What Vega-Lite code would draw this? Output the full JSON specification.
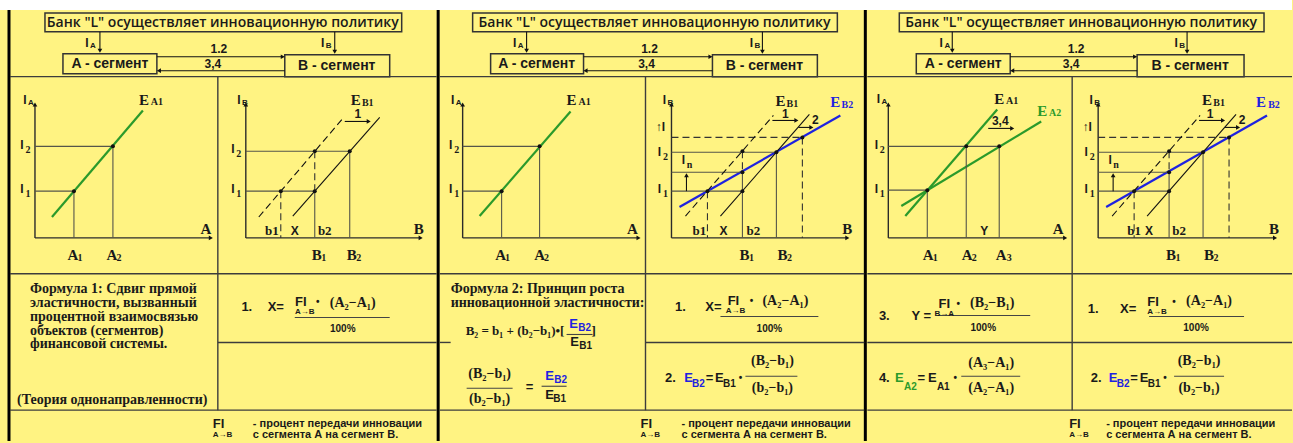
{
"$schema":"https://vega.github.io/schema/vega-lite/v6.json",
"width":1293,"height":443,"padding":0,
"autosize":{"type":"fit","contains":"padding"},
"background":"#FFF382",
"config":{"view":{"stroke":null}},
"datasets":{
"strip":[{"x":0,"x2":1293,"y":0,"y2":10}],
"boxes":[
{"x":45,"y":13,"x2":402,"y2":32},{"x":63,"y":54,"x2":157,"y2":74},{"x":285,"y":55,"x2":390,"y2":77},
{"x":473,"y":13,"x2":838,"y2":32},{"x":491,"y":54,"x2":584,"y2":74},{"x":713,"y":55,"x2":818,"y2":77},
{"x":900,"y":13,"x2":1265,"y2":32},{"x":917,"y":54,"x2":1011,"y2":74},{"x":1138,"y":55,"x2":1245,"y2":77}
],
"segs":[
{"k":"frame","x":9,"y":10,"x2":9,"y2":443},
{"k":"frame","x":438.5,"y":10,"x2":438.5,"y2":443},
{"k":"frame","x":866,"y":10,"x2":866,"y2":443},
{"k":"cell","x":10,"y":77,"x2":437,"y2":77},{"k":"cell","x":440,"y":77,"x2":865,"y2":77},{"k":"cell","x":868,"y":77,"x2":1293,"y2":77},
{"k":"cell","x":10,"y":275,"x2":437,"y2":275},{"k":"cell","x":440,"y":275,"x2":865,"y2":275},{"k":"cell","x":868,"y":275,"x2":1293,"y2":275},
{"k":"cell","x":218,"y":344,"x2":437,"y2":344},{"k":"cell","x":440,"y":344,"x2":451,"y2":344},{"k":"cell","x":646,"y":344,"x2":865,"y2":344},{"k":"cell","x":868,"y":344,"x2":1293,"y2":344},
{"k":"cell","x":10,"y":412,"x2":437,"y2":412},{"k":"cell","x":440,"y":412,"x2":865,"y2":412},{"k":"cell","x":868,"y":412,"x2":1293,"y2":412},
{"k":"cell","x":218,"y":77,"x2":218,"y2":412},{"k":"cell","x":646,"y":77,"x2":646,"y2":412},{"k":"cell","x":1073,"y":77,"x2":1073,"y2":412},
{"k":"arrow","x":100,"y":32,"x2":100,"y2":50},{"k":"arrow","x":335,"y":32,"x2":335,"y2":51},{"k":"arrow","x":157,"y":57,"x2":282,"y2":57},{"k":"arrow","x":160,"y":71,"x2":285,"y2":71},
{"k":"arrow","x":527,"y":32,"x2":527,"y2":50},{"k":"arrow","x":763,"y":32,"x2":763,"y2":51},{"k":"arrow","x":584,"y":57,"x2":710,"y2":57},{"k":"arrow","x":587,"y":71,"x2":713,"y2":71},
{"k":"arrow","x":953,"y":32,"x2":953,"y2":50},{"k":"arrow","x":1188,"y":32,"x2":1188,"y2":51},{"k":"arrow","x":1011,"y":57,"x2":1135,"y2":57},{"k":"arrow","x":1014,"y":71,"x2":1138,"y2":71},
{"k":"axis","x":35,"y":239,"x2":35,"y2":106},{"k":"axis","x":35,"y":239,"x2":210,"y2":239},
{"k":"axis","x":246,"y":239,"x2":246,"y2":106},{"k":"axis","x":246,"y":239,"x2":420,"y2":239},
{"k":"axis","x":463,"y":239,"x2":463,"y2":106},{"k":"axis","x":463,"y":239,"x2":638,"y2":239},
{"k":"axis","x":672,"y":239,"x2":672,"y2":106},{"k":"axis","x":672,"y":239,"x2":847,"y2":239},
{"k":"axis","x":889,"y":239,"x2":889,"y2":106},{"k":"axis","x":889,"y":239,"x2":1065,"y2":239},
{"k":"axis","x":1099,"y":239,"x2":1099,"y2":106},{"k":"axis","x":1099,"y":239,"x2":1275,"y2":239},
{"k":"guide","x":35,"y":192,"x2":74,"y2":192},{"k":"guide","x":35,"y":147,"x2":113,"y2":147},{"k":"guide","x":74,"y":192,"x2":74,"y2":239},{"k":"guide","x":113,"y":147,"x2":113,"y2":239},
{"k":"ea","x":52,"y":218,"x2":143,"y2":111},
{"k":"guide","x":246,"y":152,"x2":350,"y2":152},{"k":"guide","x":246,"y":192,"x2":315,"y2":192},
{"k":"gdash","x":281,"y":192,"x2":281,"y2":239},{"k":"gdash","x":315,"y":152,"x2":315,"y2":192},
{"k":"guide","x":315,"y":192,"x2":315,"y2":239},{"k":"guide","x":350,"y":152,"x2":350,"y2":239},
{"k":"sdash","x":259,"y":218,"x2":343,"y2":119},{"k":"eb1","x":293,"y":217,"x2":380,"y2":118},
{"k":"arrow","x":345,"y":122,"x2":368,"y2":122},
{"k":"guide","x":463,"y":192,"x2":502,"y2":192},{"k":"guide","x":463,"y":147,"x2":540,"y2":147},{"k":"guide","x":502,"y":192,"x2":502,"y2":239},{"k":"guide","x":540,"y":147,"x2":540,"y2":239},
{"k":"ea","x":480,"y":217,"x2":571,"y2":112},
{"k":"gdash","x":672,"y":138,"x2":803,"y2":138},{"k":"guide","x":672,"y":153,"x2":777,"y2":153},{"k":"guide","x":672,"y":173,"x2":743,"y2":173},{"k":"guide","x":672,"y":192,"x2":743,"y2":192},
{"k":"gdash","x":708,"y":192,"x2":708,"y2":239},{"k":"gdash","x":743,"y":152,"x2":743,"y2":173},{"k":"guide","x":743,"y":173,"x2":743,"y2":239},{"k":"guide","x":777,"y":153,"x2":777,"y2":239},{"k":"gdash","x":803,"y":138,"x2":803,"y2":239},
{"k":"sdash","x":686,"y":217,"x2":774,"y2":116},{"k":"eb1","x":721,"y":217,"x2":810,"y2":115},{"k":"eb2","x":680,"y":208,"x2":841,"y2":116},
{"k":"arrow","x":773,"y":121,"x2":796,"y2":121},{"k":"arrow","x":799,"y":128,"x2":811,"y2":128},{"k":"arrow","x":687,"y":192,"x2":687,"y2":177},
{"k":"guide","x":889,"y":191,"x2":928,"y2":191},{"k":"guide","x":889,"y":147,"x2":1000,"y2":147},{"k":"guide","x":928,"y":191,"x2":928,"y2":239},{"k":"guide","x":967,"y":147,"x2":967,"y2":239},{"k":"guide","x":1000,"y":147,"x2":1000,"y2":239},
{"k":"ea","x":906,"y":217,"x2":998,"y2":110},{"k":"ea","x":902,"y":207,"x2":1042,"y2":122},
{"k":"arrow","x":989,"y":129,"x2":1012,"y2":129},
{"k":"gdash","x":1099,"y":138,"x2":1230,"y2":138},{"k":"guide","x":1099,"y":153,"x2":1204,"y2":153},{"k":"guide","x":1099,"y":173,"x2":1170,"y2":173},{"k":"guide","x":1099,"y":192,"x2":1170,"y2":192},
{"k":"gdash","x":1135,"y":192,"x2":1135,"y2":239},{"k":"gdash","x":1170,"y":152,"x2":1170,"y2":173},{"k":"guide","x":1170,"y":173,"x2":1170,"y2":239},{"k":"guide","x":1204,"y":153,"x2":1204,"y2":239},{"k":"gdash","x":1230,"y":138,"x2":1230,"y2":239},
{"k":"sdash","x":1113,"y":217,"x2":1201,"y2":116},{"k":"eb1","x":1148,"y":217,"x2":1237,"y2":115},{"k":"eb2","x":1107,"y":208,"x2":1268,"y2":116},
{"k":"arrow","x":1200,"y":121,"x2":1223,"y2":121},{"k":"arrow","x":1226,"y":128,"x2":1238,"y2":128},{"k":"arrow","x":1114,"y":192,"x2":1114,"y2":177},
{"k":"frac","x":295,"y":319,"x2":390,"y2":319},
{"k":"frac","x":721,"y":318,"x2":819,"y2":318},{"k":"frac","x":746,"y":378,"x2":798,"y2":378},
{"k":"frac","x":567,"y":336,"x2":593,"y2":336},{"k":"frac","x":467,"y":390,"x2":513,"y2":390},{"k":"frac","x":542,"y":388,"x2":567,"y2":388},
{"k":"frac","x":938,"y":317,"x2":1031,"y2":317},{"k":"frac","x":962,"y":378,"x2":1021,"y2":378},
{"k":"frac","x":1150,"y":318,"x2":1245,"y2":318},{"k":"frac","x":1175,"y":378,"x2":1225,"y2":378}
],
"heads":[
{"d":"down","x":100,"y":51},{"d":"down","x":335,"y":52},{"d":"right","x":283,"y":57},{"d":"left","x":159,"y":71},
{"d":"down","x":527,"y":51},{"d":"down","x":763,"y":52},{"d":"right","x":711,"y":57},{"d":"left","x":586,"y":71},
{"d":"down","x":953,"y":51},{"d":"down","x":1188,"y":52},{"d":"right","x":1136,"y":57},{"d":"left","x":1013,"y":71},
{"d":"up","x":35,"y":105},{"d":"up","x":246,"y":105},{"d":"up","x":463,"y":105},{"d":"up","x":672,"y":105},{"d":"up","x":889,"y":105},{"d":"up","x":1099,"y":105},
{"d":"right","x":211,"y":239},{"d":"right","x":421,"y":239},{"d":"right","x":639,"y":239},{"d":"right","x":848,"y":239},{"d":"right","x":1066,"y":239},{"d":"right","x":1276,"y":239},
{"d":"right","x":369,"y":122},{"d":"right","x":797,"y":121},{"d":"right","x":812,"y":128},{"d":"up","x":687,"y":176},
{"d":"right","x":1013,"y":129},{"d":"right","x":1224,"y":121},{"d":"right","x":1239,"y":128},{"d":"up","x":1114,"y":176}
],
"dots":[
{"x":74,"y":192},{"x":113,"y":147},
{"x":281,"y":192},{"x":315,"y":152},{"x":315,"y":192},{"x":350,"y":152},
{"x":502,"y":192},{"x":540,"y":147},
{"x":708,"y":192},{"x":743,"y":173},{"x":743,"y":192},{"x":743,"y":152},{"x":777,"y":153},{"x":803,"y":138},
{"x":928,"y":191},{"x":967,"y":147},{"x":1000,"y":147},
{"x":1135,"y":192},{"x":1170,"y":173},{"x":1170,"y":192},{"x":1170,"y":152},{"x":1204,"y":153},{"x":1230,"y":138}
],
"texts":[
{"r":"title","k":"txt","x":223,"y":23,"t":"Банк \"L\" осуществляет инновационную политику"},
{"r":"title","k":"txt","x":655,"y":23,"t":"Банк \"L\" осуществляет инновационную политику"},
{"r":"title","k":"txt","x":1082,"y":23,"t":"Банк \"L\" осуществляет инновационную политику"},
{"r":"seg","k":"txt","x":110,"y":64,"t":"A - сегмент"},{"r":"seg","k":"txt","x":337,"y":66,"t":"B - сегмент"},
{"r":"seg","k":"txt","x":537,"y":64,"t":"A - сегмент"},{"r":"seg","k":"txt","x":765,"y":66,"t":"B - сегмент"},
{"r":"seg","k":"txt","x":964,"y":64,"t":"A - сегмент"},{"r":"seg","k":"txt","x":1191,"y":66,"t":"B - сегмент"},
{"r":"lab","k":"txt","x":87,"y":43,"t":"I"},{"r":"sub","k":"txt","x":93,"y":46,"t":"A"},{"r":"lab","k":"txt","x":323,"y":43,"t":"I"},{"r":"sub","k":"txt","x":329,"y":46,"t":"B"},
{"r":"lab","k":"txt","x":219,"y":49,"t":"1.2"},{"r":"lab","k":"txt","x":213,"y":64,"t":"3,4"},
{"r":"lab","k":"txt","x":515,"y":43,"t":"I"},{"r":"sub","k":"txt","x":521,"y":46,"t":"A"},{"r":"lab","k":"txt","x":752,"y":43,"t":"I"},{"r":"sub","k":"txt","x":758,"y":46,"t":"B"},
{"r":"lab","k":"txt","x":650,"y":49,"t":"1.2"},{"r":"lab","k":"txt","x":647,"y":64,"t":"3,4"},
{"r":"lab","k":"txt","x":942,"y":43,"t":"I"},{"r":"sub","k":"txt","x":948,"y":46,"t":"A"},{"r":"lab","k":"txt","x":1177,"y":43,"t":"I"},{"r":"sub","k":"txt","x":1183,"y":46,"t":"B"},
{"r":"lab","k":"txt","x":1077,"y":49,"t":"1.2"},{"r":"lab","k":"txt","x":1072,"y":64,"t":"3,4"},

{"r":"lab","k":"txt","x":25,"y":100,"t":"I"},{"r":"sub","k":"txt","x":31,"y":103,"t":"A"},
{"r":"lab","k":"txt","x":22,"y":146,"t":"I"},{"r":"vsub","k":"txt","x":28,"y":151,"t":"2"},
{"r":"lab","k":"txt","x":22,"y":190,"t":"I"},{"r":"vsub","k":"txt","x":28,"y":195,"t":"1"},
{"r":"var","k":"txt","x":206,"y":230,"t":"A"},
{"r":"var","k":"txt","x":73,"y":256,"t":"A"},{"r":"vsub","k":"txt","x":80,"y":259,"t":"1"},
{"r":"var","k":"txt","x":112,"y":256,"t":"A"},{"r":"vsub","k":"txt","x":119,"y":259,"t":"2"},
{"r":"var","k":"txt","x":144,"y":100,"t":"E"},{"r":"vsub","k":"txt","x":157,"y":102,"t":"A1"},

{"r":"lab","k":"txt","x":239,"y":100,"t":"I"},{"r":"sub","k":"txt","x":245,"y":103,"t":"B"},
{"r":"lab","k":"txt","x":233,"y":150,"t":"I"},{"r":"vsub","k":"txt","x":239,"y":155,"t":"2"},
{"r":"lab","k":"txt","x":233,"y":190,"t":"I"},{"r":"vsub","k":"txt","x":239,"y":195,"t":"1"},
{"r":"var","k":"txt","x":419,"y":230,"t":"B"},
{"r":"bl","k":"txt","x":272,"y":232,"t":"b1"},{"r":"lab","k":"txt","x":295,"y":232,"t":"X"},{"r":"bl","k":"txt","x":325,"y":232,"t":"b2"},
{"r":"var","k":"txt","x":317,"y":256,"t":"B"},{"r":"vsub","k":"txt","x":324,"y":259,"t":"1"},
{"r":"var","k":"txt","x":352,"y":256,"t":"B"},{"r":"vsub","k":"txt","x":359,"y":259,"t":"2"},
{"r":"var","k":"txt","x":356,"y":100,"t":"E"},{"r":"vsub","k":"txt","x":368,"y":103,"t":"B1"},
{"r":"lab","k":"txt","x":358,"y":115,"t":"1"},

{"r":"lab","k":"txt","x":453,"y":100,"t":"I"},{"r":"sub","k":"txt","x":459,"y":103,"t":"A"},
{"r":"lab","k":"txt","x":451,"y":146,"t":"I"},{"r":"vsub","k":"txt","x":457,"y":151,"t":"2"},
{"r":"lab","k":"txt","x":451,"y":190,"t":"I"},{"r":"vsub","k":"txt","x":457,"y":195,"t":"1"},
{"r":"var","k":"txt","x":633,"y":230,"t":"A"},
{"r":"var","k":"txt","x":501,"y":256,"t":"A"},{"r":"vsub","k":"txt","x":508,"y":259,"t":"1"},
{"r":"var","k":"txt","x":540,"y":256,"t":"A"},{"r":"vsub","k":"txt","x":547,"y":259,"t":"2"},
{"r":"var","k":"txt","x":572,"y":100,"t":"E"},{"r":"vsub","k":"txt","x":585,"y":102,"t":"A1"},

{"r":"lab","k":"txt","x":665,"y":100,"t":"I"},{"r":"sub","k":"txt","x":671,"y":103,"t":"B"},
{"r":"lab","k":"txt","x":661,"y":128,"t":"↑I"},
{"r":"lab","k":"txt","x":660,"y":153,"t":"I"},{"r":"vsub","k":"txt","x":666,"y":158,"t":"2"},
{"r":"lab","k":"txt","x":660,"y":190,"t":"I"},{"r":"vsub","k":"txt","x":666,"y":195,"t":"1"},
{"r":"lab","k":"txt","x":684,"y":161,"t":"I"},{"r":"vsub","k":"txt","x":690,"y":166,"t":"n"},
{"r":"var","k":"txt","x":848,"y":230,"t":"B"},
{"r":"bl","k":"txt","x":700,"y":232,"t":"b1"},{"r":"lab","k":"txt","x":724,"y":232,"t":"X"},{"r":"bl","k":"txt","x":754,"y":232,"t":"b2"},
{"r":"var","k":"txt","x":745,"y":256,"t":"B"},{"r":"vsub","k":"txt","x":752,"y":259,"t":"1"},
{"r":"var","k":"txt","x":783,"y":256,"t":"B"},{"r":"vsub","k":"txt","x":790,"y":259,"t":"2"},
{"r":"var","k":"txt","x":781,"y":101,"t":"E"},{"r":"vsub","k":"txt","x":793,"y":104,"t":"B1"},
{"r":"var","k":"eb2","x":836,"y":102,"t":"E"},{"r":"vsub","k":"eb2","x":848,"y":105,"t":"B2"},
{"r":"lab","k":"txt","x":786,"y":115,"t":"1"},{"r":"lab","k":"txt","x":816,"y":121,"t":"2"},

{"r":"lab","k":"txt","x":879,"y":99,"t":"I"},{"r":"sub","k":"txt","x":885,"y":102,"t":"A"},
{"r":"lab","k":"txt","x":877,"y":146,"t":"I"},{"r":"vsub","k":"txt","x":883,"y":151,"t":"2"},
{"r":"lab","k":"txt","x":877,"y":190,"t":"I"},{"r":"vsub","k":"txt","x":883,"y":195,"t":"1"},
{"r":"var","k":"txt","x":1059,"y":230,"t":"A"},
{"r":"var","k":"txt","x":929,"y":256,"t":"A"},{"r":"vsub","k":"txt","x":936,"y":259,"t":"1"},
{"r":"var","k":"txt","x":968,"y":256,"t":"A"},{"r":"vsub","k":"txt","x":975,"y":259,"t":"2"},
{"r":"var","k":"txt","x":1002,"y":256,"t":"A"},{"r":"vsub","k":"txt","x":1010,"y":259,"t":"3"},
{"r":"lab","k":"txt","x":985,"y":232,"t":"Y"},
{"r":"var","k":"txt","x":1000,"y":99,"t":"E"},{"r":"vsub","k":"txt","x":1013,"y":101,"t":"A1"},
{"r":"var","k":"ea","x":1043,"y":112,"t":"E"},{"r":"vsub","k":"ea","x":1056,"y":114,"t":"A2"},
{"r":"lab","k":"txt","x":1001,"y":122,"t":"3,4"},

{"r":"lab","k":"txt","x":1092,"y":100,"t":"I"},{"r":"sub","k":"txt","x":1098,"y":103,"t":"B"},
{"r":"lab","k":"txt","x":1088,"y":128,"t":"↑I"},
{"r":"lab","k":"txt","x":1087,"y":153,"t":"I"},{"r":"vsub","k":"txt","x":1093,"y":158,"t":"2"},
{"r":"lab","k":"txt","x":1087,"y":190,"t":"I"},{"r":"vsub","k":"txt","x":1093,"y":195,"t":"1"},
{"r":"lab","k":"txt","x":1111,"y":161,"t":"I"},{"r":"vsub","k":"txt","x":1117,"y":166,"t":"n"},
{"r":"var","k":"txt","x":1275,"y":230,"t":"B"},
{"r":"bl","k":"txt","x":1135,"y":232,"t":"b1"},{"r":"lab","k":"txt","x":1150,"y":232,"t":"X"},{"r":"bl","k":"txt","x":1180,"y":232,"t":"b2"},
{"r":"var","k":"txt","x":1172,"y":256,"t":"B"},{"r":"vsub","k":"txt","x":1179,"y":259,"t":"1"},
{"r":"var","k":"txt","x":1210,"y":256,"t":"B"},{"r":"vsub","k":"txt","x":1217,"y":259,"t":"2"},
{"r":"var","k":"txt","x":1208,"y":100,"t":"E"},{"r":"vsub","k":"txt","x":1220,"y":103,"t":"B1"},
{"r":"var","k":"eb2","x":1262,"y":102,"t":"E"},{"r":"vsub","k":"eb2","x":1275,"y":105,"t":"B2"},
{"r":"lab","k":"txt","x":1211,"y":115,"t":"1"},{"r":"lab","k":"txt","x":1243,"y":121,"t":"2"},

{"r":"desc","k":"txt","x":30,"y":290,"t":"Формула 1: Сдвиг прямой"},
{"r":"desc","k":"txt","x":30,"y":304,"t":"эластичности, вызванный"},
{"r":"desc","k":"txt","x":30,"y":318,"t":"процентной взаимосвязью"},
{"r":"desc","k":"txt","x":30,"y":332,"t":"объектов (сегментов)"},
{"r":"desc","k":"txt","x":30,"y":346,"t":"финансовой системы."},
{"r":"desc","k":"txt","x":17,"y":402,"t":"(Теория однонаправленности)"},
{"r":"f","k":"txt","x":247,"y":308,"t":"1."},{"r":"f","k":"txt","x":276,"y":308,"t":"X="},
{"r":"f","k":"txt","x":301,"y":303,"t":"FI"},{"r":"sub","k":"txt","x":305,"y":313,"t":"A→B"},
{"r":"dot","k":"txt","x":318,"y":303,"t":"•"},{"r":"expr","k":"txt","x":353,"y":304,"t":"(A₂−A₁)"},
{"r":"pct","k":"txt","x":343,"y":330,"t":"100%"},

{"r":"desc","k":"txt","x":451,"y":290,"t":"Формула 2: Принцип роста"},
{"r":"desc","k":"txt","x":451,"y":304,"t":"инновационной эластичности:"},
{"r":"desc2","k":"txt","x":466,"y":333,"t":"B₂ = b₁ + (b₂−b₁)•["},
{"r":"desc2","k":"txt","x":592,"y":333,"t":"]"},
{"r":"f","k":"eb2","x":574,"y":325,"t":"E"},{"r":"fsub","k":"eb2","x":585,"y":329,"t":"B2"},
{"r":"f","k":"txt","x":575,"y":344,"t":"E"},{"r":"fsub","k":"txt","x":586,"y":348,"t":"B1"},
{"r":"expr","k":"txt","x":490,"y":376,"t":"(B₂−b₁)"},{"r":"expr","k":"txt","x":490,"y":401,"t":"(b₂−b₁)"},
{"r":"f","k":"txt","x":530,"y":389,"t":"="},
{"r":"f","k":"eb2","x":550,"y":378,"t":"E"},{"r":"fsub","k":"eb2","x":561,"y":382,"t":"B2"},
{"r":"f","k":"txt","x":550,"y":397,"t":"E"},{"r":"fsub","k":"txt","x":560,"y":401,"t":"B1"},
{"r":"f","k":"txt","x":681,"y":308,"t":"1."},{"r":"f","k":"txt","x":714,"y":308,"t":"X="},
{"r":"f","k":"txt","x":734,"y":302,"t":"FI"},{"r":"sub","k":"txt","x":736,"y":312,"t":"A→B"},
{"r":"dot","k":"txt","x":752,"y":302,"t":"•"},{"r":"expr","k":"txt","x":786,"y":302,"t":"(A₂−A₁)"},
{"r":"pct","k":"txt","x":770,"y":330,"t":"100%"},
{"r":"f","k":"txt","x":671,"y":380,"t":"2."},{"r":"f","k":"eb2","x":689,"y":380,"t":"E"},{"r":"fsub","k":"eb2","x":699,"y":386,"t":"B2"},
{"r":"f","k":"txt","x":710,"y":380,"t":"="},{"r":"f","k":"txt","x":720,"y":380,"t":"E"},{"r":"fsub","k":"txt","x":730,"y":386,"t":"B1"},
{"r":"dot","k":"txt","x":741,"y":380,"t":"•"},
{"r":"expr","k":"txt","x":773,"y":363,"t":"(B₂−b₁)"},{"r":"expr","k":"txt","x":773,"y":390,"t":"(b₂−b₁)"},

{"r":"f","k":"txt","x":885,"y":317,"t":"3."},{"r":"f","k":"txt","x":922,"y":317,"t":"Y ="},
{"r":"f","k":"txt","x":945,"y":305,"t":"FI"},{"r":"sub","k":"txt","x":945,"y":315,"t":"B→A"},
{"r":"dot","k":"txt","x":959,"y":305,"t":"•"},{"r":"expr","k":"txt","x":993,"y":304,"t":"(B₂−B₁)"},
{"r":"pct","k":"txt","x":984,"y":329,"t":"100%"},
{"r":"f","k":"txt","x":885,"y":380,"t":"4."},{"r":"f","k":"ea","x":900,"y":380,"t":"E"},{"r":"fsub","k":"ea","x":911,"y":389,"t":"A2"},
{"r":"f","k":"txt","x":922,"y":380,"t":"="},{"r":"f","k":"txt","x":933,"y":380,"t":"E"},{"r":"fsub","k":"txt","x":944,"y":389,"t":"A1"},
{"r":"dot","k":"txt","x":956,"y":380,"t":"•"},
{"r":"expr","k":"txt","x":992,"y":365,"t":"(A₃−A₁)"},{"r":"expr","k":"txt","x":992,"y":390,"t":"(A₂−A₁)"},
{"r":"f","k":"txt","x":1094,"y":310,"t":"1."},{"r":"f","k":"txt","x":1129,"y":310,"t":"X="},
{"r":"f","k":"txt","x":1154,"y":303,"t":"FI"},{"r":"sub","k":"txt","x":1158,"y":313,"t":"A→B"},
{"r":"dot","k":"txt","x":1175,"y":303,"t":"•"},{"r":"expr","k":"txt","x":1210,"y":302,"t":"(A₂−A₁)"},
{"r":"pct","k":"txt","x":1197,"y":329,"t":"100%"},
{"r":"f","k":"txt","x":1097,"y":380,"t":"2."},{"r":"f","k":"eb2","x":1114,"y":380,"t":"E"},{"r":"fsub","k":"eb2","x":1124,"y":386,"t":"B2"},
{"r":"f","k":"txt","x":1135,"y":380,"t":"="},{"r":"f","k":"txt","x":1145,"y":380,"t":"E"},{"r":"fsub","k":"txt","x":1155,"y":386,"t":"B1"},
{"r":"dot","k":"txt","x":1166,"y":380,"t":"•"},
{"r":"expr","k":"txt","x":1200,"y":363,"t":"(B₂−b₁)"},{"r":"expr","k":"txt","x":1200,"y":390,"t":"(b₂−b₁)"},

{"r":"capFI","k":"txt","x":213,"y":426,"t":"FI"},{"r":"capSub","k":"txt","x":213,"y":437,"t":"A→B"},
{"r":"cap","k":"txt","x":253,"y":426,"t":"- процент передачи инновации"},{"r":"cap","k":"txt","x":253,"y":437,"t":"с сегмента А на сегмент В."},
{"r":"capFI","k":"txt","x":641,"y":426,"t":"FI"},{"r":"capSub","k":"txt","x":641,"y":437,"t":"A→B"},
{"r":"cap","k":"txt","x":682,"y":426,"t":"- процент передачи инновации"},{"r":"cap","k":"txt","x":682,"y":437,"t":"с сегмента А на сегмент В."},
{"r":"capFI","k":"txt","x":1070,"y":426,"t":"FI"},{"r":"capSub","k":"txt","x":1070,"y":437,"t":"A→B"},
{"r":"cap","k":"txt","x":1107,"y":426,"t":"- процент передачи инновации"},{"r":"cap","k":"txt","x":1107,"y":437,"t":"с сегмента А на сегмент В."}
]
},
"encoding":{
"x":{"field":"x","type":"quantitative","scale":{"domain":[0,1293],"nice":false,"zero":false},"axis":null},
"y":{"field":"y","type":"quantitative","scale":{"domain":[0,443],"reverse":true,"nice":false,"zero":false},"axis":null}
},
"layer":[
{"data":{"name":"strip"},"mark":{"type":"rect","fill":"#ffffff"},"encoding":{"x2":{"field":"x2"},"y2":{"field":"y2"}}},
{"data":{"name":"boxes"},"mark":{"type":"rect","fill":null,"stroke":"#333333","strokeWidth":1.5},"encoding":{"x2":{"field":"x2"},"y2":{"field":"y2"}}},
{"data":{"name":"segs"},
 "encoding":{"x2":{"field":"x2"},"y2":{"field":"y2"},
  "color":{"field":"k","type":"nominal","legend":null,"scale":{"domain":["frame","ea","eb2","axis","cell","guide","gdash","sdash","eb1","arrow","frac","txt"],"range":["#000000","#2b9a2b","#1e22e0","#2a2a2a","#3c3c3c","#55554a","#333333","#111111","#111111","#111111","#444444","#1a1a1a"]}}},
 "layer":[
  {"transform":[{"filter":"datum.k==='frame'"}],"mark":{"type":"rule","strokeWidth":3}},
  {"transform":[{"filter":"datum.k==='ea'||datum.k==='eb2'"}],"mark":{"type":"rule","strokeWidth":2.2}},
  {"transform":[{"filter":"datum.k==='axis'||datum.k==='cell'"}],"mark":{"type":"rule","strokeWidth":1.4}},
  {"transform":[{"filter":"datum.k==='guide'||datum.k==='arrow'||datum.k==='eb1'||datum.k==='frac'"}],"mark":{"type":"rule","strokeWidth":1.1}},
  {"transform":[{"filter":"datum.k==='gdash'||datum.k==='sdash'"}],"mark":{"type":"rule","strokeWidth":1.1,"strokeDash":[7,4]}}
 ]},
{"data":{"name":"dots"},"mark":{"type":"point","filled":true,"shape":"circle","size":16,"color":"#111111","opacity":1}},
{"data":{"name":"heads"},"mark":{"type":"point","filled":true,"size":22,"color":"#111111","opacity":1},
 "encoding":{"shape":{"field":"d","type":"nominal","legend":null,"scale":{"domain":["up","right","down","left"],"range":["triangle-up","triangle-right","triangle-down","triangle-left"]}}}},
{"data":{"name":"texts"},
 "encoding":{"text":{"field":"t"},
  "color":{"field":"k","type":"nominal","legend":null,"scale":{"domain":["frame","ea","eb2","axis","cell","guide","gdash","sdash","eb1","arrow","frac","txt"],"range":["#000000","#2b9a2b","#1e22e0","#2a2a2a","#3c3c3c","#55554a","#333333","#111111","#111111","#111111","#444444","#1a1a1a"]}}},
 "layer":[
  {"transform":[{"filter":"datum.r==='title'"}],"mark":{"type":"text","font":"Open Sans","fontWeight":600,"fontSize":14,"baseline":"middle"}},
  {"transform":[{"filter":"datum.r==='seg'"}],"mark":{"type":"text","font":"Liberation Sans","fontWeight":"bold","fontSize":14,"baseline":"middle"}},
  {"transform":[{"filter":"datum.r==='lab'"}],"mark":{"type":"text","font":"Liberation Sans","fontWeight":"bold","fontSize":12,"baseline":"middle"}},
  {"transform":[{"filter":"datum.r==='sub'"}],"mark":{"type":"text","font":"Liberation Sans","fontWeight":"bold","fontSize":8,"baseline":"middle"}},
  {"transform":[{"filter":"datum.r==='fsub'"}],"mark":{"type":"text","font":"Liberation Sans","fontWeight":"bold","fontSize":10,"baseline":"middle"}},
  {"transform":[{"filter":"datum.r==='f'"}],"mark":{"type":"text","font":"Liberation Sans","fontWeight":"bold","fontSize":13,"baseline":"middle"}},
  {"transform":[{"filter":"datum.r==='dot'"}],"mark":{"type":"text","font":"Liberation Sans","fontWeight":"bold","fontSize":10,"baseline":"middle"}},
  {"transform":[{"filter":"datum.r==='pct'"}],"mark":{"type":"text","font":"Liberation Sans","fontWeight":"bold","fontSize":10,"baseline":"middle"}},
  {"transform":[{"filter":"datum.r==='var'"}],"mark":{"type":"text","font":"Liberation Serif","fontWeight":"bold","fontSize":15,"baseline":"middle"}},
  {"transform":[{"filter":"datum.r==='vsub'"}],"mark":{"type":"text","font":"Liberation Serif","fontWeight":"bold","fontSize":10,"baseline":"middle"}},
  {"transform":[{"filter":"datum.r==='bl'"}],"mark":{"type":"text","font":"Liberation Serif","fontWeight":"bold","fontSize":13,"baseline":"middle"}},
  {"transform":[{"filter":"datum.r==='expr'"}],"mark":{"type":"text","font":"Liberation Serif","fontWeight":"bold","fontSize":14,"baseline":"middle"}},
  {"transform":[{"filter":"datum.r==='desc'"}],"mark":{"type":"text","font":"Liberation Serif","fontWeight":"bold","fontSize":14,"align":"left","baseline":"middle"}},
  {"transform":[{"filter":"datum.r==='desc2'"}],"mark":{"type":"text","font":"Liberation Serif","fontWeight":"bold","fontSize":13,"align":"left","baseline":"middle"}},
  {"transform":[{"filter":"datum.r==='capFI'"}],"mark":{"type":"text","font":"Liberation Sans","fontWeight":"bold","fontSize":13,"align":"left","baseline":"middle"}},
  {"transform":[{"filter":"datum.r==='capSub'"}],"mark":{"type":"text","font":"Liberation Sans","fontWeight":"bold","fontSize":8,"align":"left","baseline":"middle"}},
  {"transform":[{"filter":"datum.r==='cap'"}],"mark":{"type":"text","font":"Liberation Sans","fontWeight":"bold","fontSize":11,"align":"left","baseline":"middle"}}
 ]}
]
}
